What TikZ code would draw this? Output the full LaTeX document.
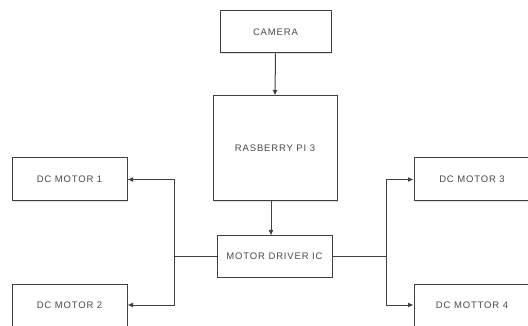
\documentclass[tikz,border=0pt]{standalone}
\usepackage{fontspec}
\newfontfamily\lab[LetterSpace=9]{Liberation Sans}
\usetikzlibrary{arrows.meta,shadows}
\definecolor{txt}{HTML}{4A4A4A}
\definecolor{ln}{HTML}{404040}
\tikzset{
  blk/.style={draw=ln, line width=1pt, fill=white, inner sep=0pt,
    font=\lab\fontsize{9.5}{11}\selectfont, text=txt,
    drop shadow={opacity=0.25, shadow xshift=1pt, shadow yshift=-1pt}},
  arr/.style={draw=ln, line width=1pt, -{Latex[length=5.5pt,width=5pt]}},
  ln/.style={draw=ln, line width=1pt}
}
\begin{document}
\begin{tikzpicture}[x=1pt,y=-1pt]
\useasboundingbox (0,0) rectangle (528,326);
\node[blk, minimum width=111pt, minimum height=42pt] (cam) at (275.5,32) {CAMERA};
\node[blk, minimum width=124pt, minimum height=105pt] (rpi) at (275,148.5) {RASBERRY PI 3};
\node[blk, minimum width=115pt, minimum height=41pt] (drv) at (274.5,256.5) {MOTOR DRIVER IC};
\node[blk, minimum width=115pt, minimum height=43pt] (m1) at (69.5,179.5) {DC MOTOR 1};
\node[blk, minimum width=115pt, minimum height=42pt] (m2) at (69.5,305) {DC MOTOR 2};
\node[blk, minimum width=116pt, minimum height=43pt] (m3) at (472,179.5) {DC MOTOR 3};
\node[blk, minimum width=116pt, minimum height=42pt] (m4) at (472,305) {DC MOTTOR 4};
\coordinate (lb) at (174,256.5);
\coordinate (rb) at (386,256.5);
\draw[arr] (cam.south) -- (rpi.north);
\draw[arr] ([xshift=-4pt]rpi.south) -- ([xshift=-4pt]rpi.south |- drv.north);
\draw[ln] (drv.west) -- (lb);
\draw[ln] (drv.east) -- (rb);
\draw[arr] (lb) |- (m1.east);
\draw[arr] (lb) |- (m2.east);
\draw[arr] (rb) |- (m3.west);
\draw[arr] (rb) |- (m4.west);
\end{tikzpicture}
\end{document}
